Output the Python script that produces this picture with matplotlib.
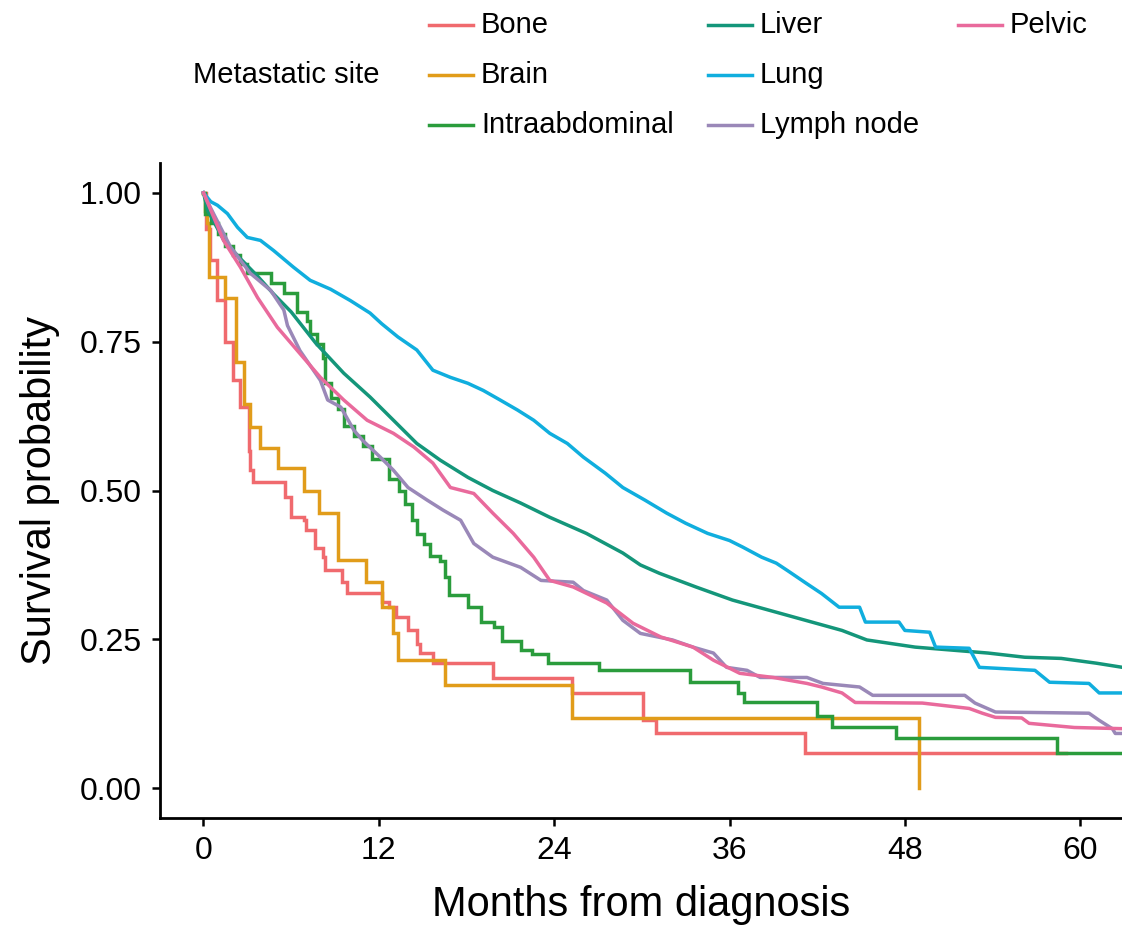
import matplotlib
matplotlib.use('Agg')
from matplotlib import pyplot as plt
from matplotlib.lines import Line2D

plt.rcParams['font.family'] = ['Liberation Sans', 'DejaVu Sans']

# Kaplan-Meier estimates (months, survival probability)
sites = ['Bone', 'Brain', 'Intraabdominal', 'Liver', 'Lung', 'Lymph node', 'Pelvic']
colors = ['#F06A6E', '#E19C1A', '#2A9C3C', '#14967A', '#10AEDE', '#9A88B8', '#E96A9C']

bone_t = [0, 0.2, 0.48, 0.96, 1.5, 2.0, 2.5, 3.1, 3.2, 3.4, 5.6, 6.0, 6.9, 7.0, 7.6,
          8.2, 8.3, 9.5, 9.8, 12.2, 12.7, 13.2, 14.0, 14.6, 14.85, 15.7, 19.8, 25.2,
          30.1, 31.0, 41.2, 59.0]
bone_s = [1.0, 0.94, 0.887, 0.82, 0.75, 0.685, 0.64, 0.567, 0.534, 0.514, 0.489, 0.455,
          0.45, 0.433, 0.404, 0.388, 0.366, 0.346, 0.328, 0.313, 0.304, 0.287, 0.265,
          0.243, 0.227, 0.21, 0.185, 0.16, 0.114, 0.092, 0.06, 0.06]

brain_t = [0, 0.1, 0.25, 0.35, 1.5, 2.2, 2.75, 3.2, 3.9, 5.1, 6.85, 7.9, 9.2, 11.1,
           12.2, 13.0, 13.3, 16.55, 25.2, 49.0]
brain_s = [1.0, 0.97, 0.95, 0.858, 0.823, 0.715, 0.645, 0.606, 0.571, 0.537, 0.50,
           0.462, 0.383, 0.346, 0.304, 0.26, 0.215, 0.173, 0.118, 0.0]

intra_t = [0, 0.1, 0.5, 1.0, 1.5, 2.0, 2.5, 3.0, 4.6, 5.5, 6.4, 7.1, 7.3, 7.8, 8.2,
           8.35, 8.7, 9.2, 9.6, 10.3, 10.9, 11.5, 12.7, 13.4, 13.8, 14.3, 14.6, 15.1,
           15.5, 16.2, 16.5, 16.8, 18.1, 19.0, 19.9, 20.4, 21.7, 22.5, 23.6, 27.1,
           33.3, 36.6, 37.0, 42.0, 43.0, 47.4, 58.4, 62.9]
intra_s = [1.0, 0.965, 0.95, 0.93, 0.91, 0.895, 0.88, 0.865, 0.848, 0.831, 0.80, 0.785,
           0.763, 0.746, 0.722, 0.68, 0.656, 0.637, 0.608, 0.591, 0.575, 0.553, 0.52,
           0.50, 0.477, 0.45, 0.427, 0.41, 0.39, 0.382, 0.355, 0.325, 0.305, 0.28,
           0.27, 0.248, 0.232, 0.225, 0.21, 0.198, 0.178, 0.16, 0.145, 0.122, 0.102,
           0.085, 0.06, 0.06]

liver_t = [0, 0.3, 1.4, 2.5, 3.7, 4.8, 6.0, 7.7, 9.6, 11.4, 13.0, 14.6, 16.2, 18.1,
           19.8, 21.7, 23.7, 26.2, 28.7, 29.9, 31.2, 33.7, 36.2, 38.7, 41.2, 43.7,
           45.4, 48.7, 51.2, 53.7, 56.2, 58.7, 61.1, 62.9]
liver_s = [1.0, 0.97, 0.92, 0.89, 0.86, 0.83, 0.80, 0.747, 0.697, 0.657, 0.618, 0.579,
           0.551, 0.522, 0.50, 0.479, 0.455, 0.428, 0.395, 0.375, 0.361, 0.338, 0.316,
           0.299, 0.282, 0.265, 0.249, 0.237, 0.232, 0.227, 0.22, 0.218, 0.21, 0.203]

lung_t = [0, 0.5, 0.96, 1.64, 2.33, 3.0, 3.9, 4.8, 6.16, 7.3, 8.7, 10.05, 11.4, 12.2,
          13.3, 14.6, 15.7, 16.9, 18.1, 19.15, 20.3, 21.5, 22.6, 23.7, 24.9, 26.0,
          27.5, 28.7, 30.2, 31.7, 33.0, 34.5, 36.0, 36.9, 38.2, 39.2, 40.0, 41.2,
          42.3, 43.5, 44.9, 45.3, 47.6, 48.0, 49.7, 50.1, 52.4, 53.1, 56.9, 57.9,
          60.6, 61.3, 62.9]
lung_s = [1.0, 0.985, 0.979, 0.965, 0.942, 0.925, 0.92, 0.903, 0.875, 0.853, 0.838,
          0.819, 0.798, 0.78, 0.758, 0.736, 0.702, 0.69, 0.68, 0.668, 0.652, 0.635,
          0.618, 0.596, 0.579, 0.556, 0.529, 0.505, 0.484, 0.462, 0.445, 0.428, 0.416,
          0.405, 0.388, 0.378, 0.365, 0.345, 0.327, 0.304, 0.304, 0.279, 0.279, 0.265,
          0.262, 0.237, 0.235, 0.203, 0.198, 0.178, 0.176, 0.16, 0.16]

lymph_t = [0, 0.48, 1.85, 3.2, 4.6, 5.5, 5.75, 6.6, 8.0, 8.5, 9.4, 10.3, 10.9, 12.1,
           13.0, 14.0, 15.3, 16.4, 17.6, 18.5, 19.8, 21.7, 23.1, 25.3, 26.0, 27.6,
           28.7, 29.9, 32.1, 33.5, 34.9, 35.8, 37.2, 38.1, 41.3, 42.4, 44.9, 45.8,
           52.1, 52.8, 54.2, 60.6, 61.3, 62.2, 62.4, 62.9]
lymph_s = [1.0, 0.975, 0.909, 0.865, 0.836, 0.803, 0.777, 0.735, 0.685, 0.652, 0.64,
           0.601, 0.584, 0.556, 0.534, 0.505, 0.484, 0.467, 0.45, 0.411, 0.388, 0.371,
           0.349, 0.346, 0.332, 0.316, 0.282, 0.26, 0.249, 0.237, 0.227, 0.203, 0.198,
           0.186, 0.186, 0.176, 0.17, 0.156, 0.156, 0.143, 0.128, 0.126, 0.114, 0.10,
           0.092, 0.092]

pelvic_t = [0, 1.37, 2.53, 3.7, 5.06, 6.6, 8.0, 9.6, 11.2, 13.0, 14.4, 15.7, 16.9,
            18.5, 19.8, 21.2, 22.6, 23.7, 25.3, 27.6, 29.4, 31.3, 33.5, 34.9, 36.7,
            39.0, 41.3, 42.3, 43.7, 44.6, 49.2, 52.4, 53.3, 54.2, 56.0, 56.5, 59.6, 62.9]
pelvic_s = [1.0, 0.92, 0.875, 0.824, 0.774, 0.73, 0.69, 0.652, 0.618, 0.596, 0.573,
            0.546, 0.505, 0.495, 0.462, 0.428, 0.388, 0.349, 0.338, 0.311, 0.277,
            0.254, 0.237, 0.215, 0.193, 0.186, 0.176, 0.17, 0.16, 0.144, 0.143, 0.134,
            0.126, 0.119, 0.118, 0.109, 0.102, 0.10]

times = [bone_t, brain_t, intra_t, liver_t, lung_t, lymph_t, pelvic_t]
surv = [bone_s, brain_s, intra_s, liver_s, lung_s, lymph_s, pelvic_s]
# sparse curves drawn as steps, dense ones traced point by point
stepped = [True, True, True, False, False, False, False]

fig = plt.figure(figsize=(11.22, 9.26), dpi=100)
ax = fig.add_axes([160 / 1122, 108 / 926, 962 / 1122, 655 / 926])

for t, s, c, st in zip(times, surv, colors, stepped):
    if st:
        ax.step(t, s, where='post', color=c, lw=2.5, solid_joinstyle='miter')
    else:
        ax.plot(t, s, color=c, lw=2.5)

ax.set_xlim(-2.975, 62.86)
ax.set_ylim(-0.05, 1.05)
ax.set_xticks([0, 12, 24, 36, 48, 60])
ax.set_yticks([0, 0.25, 0.5, 0.75, 1.0])
ax.set_yticklabels(['0.00', '0.25', '0.50', '0.75', '1.00'])
ax.tick_params(labelsize=23, length=6, width=1.8, colors='black', pad=7)

for side in ['top', 'right']:
    ax.spines[side].set_visible(False)
for side in ['left', 'bottom']:
    ax.spines[side].set_linewidth(2.0)
    ax.spines[side].set_color('black')

ax.set_xlabel('Months from diagnosis', fontsize=30)
ax.set_ylabel('Survival probability', fontsize=30)
ax.xaxis.set_label_coords(0.5, -0.103)
ax.yaxis.set_label_coords(-0.104, 0.5)

# legend on top, 3 columns filled column by column
fig.text(193 / 1122, 1 - 75 / 926, 'Metastatic site', fontsize=21,
         ha='left', va='center')
col_x = [429, 708, 958]
row_y = [25, 75, 125]
for i, (name, c) in enumerate(zip(sites, colors)):
    x0 = col_x[i // 3]
    y0 = 1 - row_y[i % 3] / 926
    fig.add_artist(Line2D([x0 / 1122, (x0 + 44) / 1122], [y0, y0],
                          color=c, lw=2.5, transform=fig.transFigure))
    fig.text((x0 + 52) / 1122, y0, name, fontsize=21, ha='left', va='center')

fig.savefig('out.png', dpi=100, facecolor='white')
